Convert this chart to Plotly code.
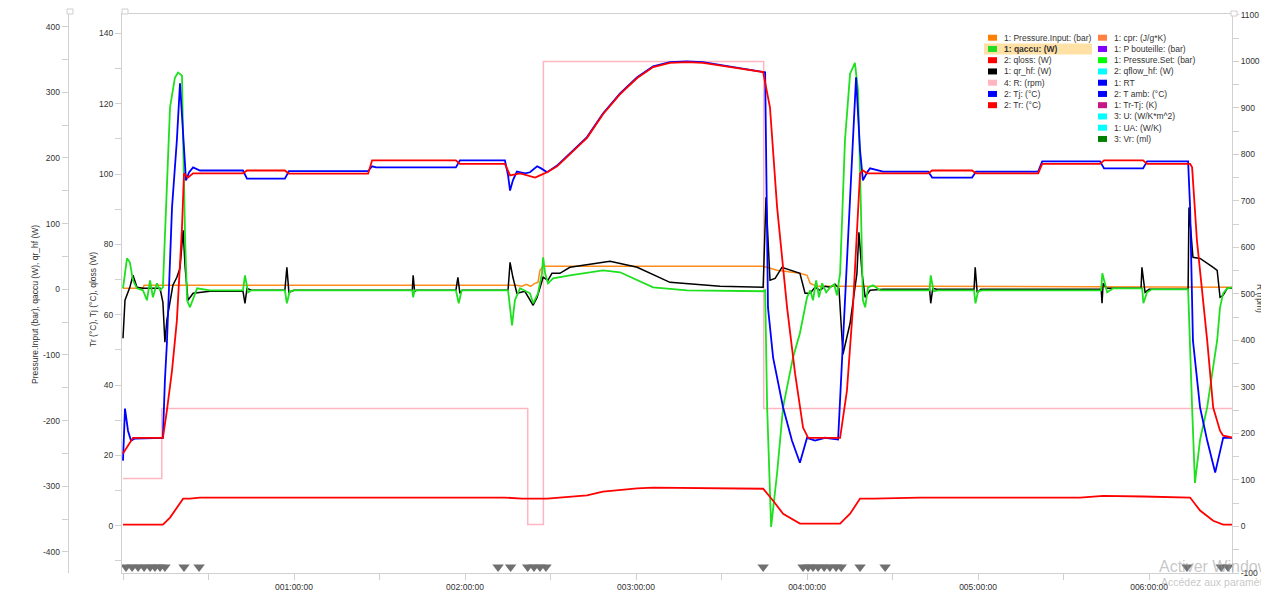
import plotly.graph_objects as go

# ---------------- data (time in minutes since start) ----------------
# inner left axis: Tr (°C), Tj (°C), qloss (W)
TJ = [(0, 18.5), (0.7, 33.3), (1.75, 27.0), (2.8, 24.2), (4.2, 24.8), (14.0, 25.0), (14.7, 41.3),
      (15.4, 51.8), (17.2, 90.5), (18.9, 109.6), (20.0, 125.8), (21.1, 109.6), (22.1, 98.2),
      (23.2, 100.5), (24.6, 101.9), (27.0, 101.0), (42.1, 101.0), (43.5, 98.7), (56.8, 98.7),
      (58.2, 100.8), (86.0, 100.8), (87.4, 102.2), (88.8, 101.9), (116.8, 101.9), (118.2, 103.9),
      (134.0, 103.9), (135.1, 99.6), (135.8, 95.3), (136.8, 98.2), (138.2, 100.7), (141.1, 100.2),
      (142.8, 100.5), (145.3, 102.2), (146.7, 101.6), (148.8, 100.5), (152.3, 102.4), (156.8, 105.9),
      (162.8, 110.5), (168.4, 117.2), (174.4, 122.9), (180.4, 127.5), (186.0, 130.6), (191.9, 131.8),
      (197.9, 132.0), (203.5, 131.8), (224.6, 129.2), (225.3, 128.9), (226.3, 62.0), (228.1, 47.8),
      (231.6, 33.6), (234.7, 24.2), (237.5, 17.9), (240.0, 25.0), (242.8, 24.2), (246.3, 25.0),
      (250.9, 24.5), (252.6, 52.6), (255.1, 90.5), (257.2, 127.5), (258.6, 106.7), (259.6, 98.2),
      (261.1, 100.5), (262.1, 101.6), (266.7, 100.7), (282.5, 100.7), (283.9, 99.0), (297.9, 99.0),
      (299.3, 100.7), (321.1, 100.7), (322.5, 103.6), (342.8, 103.6), (344.2, 101.6), (357.9, 101.6),
      (359.3, 103.6), (373.7, 103.6), (374.4, 90.5), (375.4, 52.6), (377.9, 33.6), (380.4, 24.2),
      (383.2, 15.1), (386.0, 25.0), (389.5, 25.0)]

TR = [(0, 20.5), (1.75, 22.8), (3.5, 25.0), (14.0, 25.0), (15.4, 32.7), (17.2, 44.1), (18.9, 58.3),
      (20.7, 84.8), (21.4, 100.2), (22.8, 99.0), (24.6, 100.2), (42.1, 100.2), (43.5, 101.0),
      (56.8, 101.0), (58.2, 100.1), (86.0, 100.1), (87.4, 103.9), (116.8, 103.9), (118.2, 102.9),
      (134.0, 102.9), (135.8, 99.6), (139.3, 100.2), (142.8, 99.4), (144.6, 99.0), (146.3, 99.6),
      (148.8, 100.5), (152.3, 102.2), (156.8, 105.6), (162.8, 110.3), (168.4, 117.0), (174.4, 122.7),
      (180.4, 127.3), (186.0, 130.4), (191.9, 131.6), (197.9, 131.8), (203.5, 131.6), (224.6, 129.0),
      (227.0, 118.9), (229.5, 90.5), (233.0, 62.0), (235.8, 43.3), (238.6, 27.9), (240.4, 25.0),
      (251.6, 25.0), (254.0, 38.4), (256.1, 62.0), (258.6, 100.2), (259.6, 101.0), (261.1, 100.2),
      (282.5, 100.2), (283.9, 101.0), (297.9, 101.0), (299.3, 100.2), (321.1, 100.2), (322.5, 102.9),
      (342.8, 102.9), (344.2, 103.9), (357.9, 103.9), (359.3, 102.9), (374.4, 102.9), (375.1, 101.9),
      (376.8, 81.1), (380.4, 52.6), (382.5, 33.6), (384.9, 27.0), (386.0, 25.6), (389.5, 25.0)]

QLOSS = [(0, 0.3), (14.0, 0.3), (16.5, 2.3), (18.9, 5.1), (21.1, 7.7), (23.5, 7.7), (27.0, 8.0),
         (134.0, 8.0), (140.0, 7.7), (148.8, 7.7), (162.8, 8.6), (168.4, 9.7), (180.4, 10.6),
         (186.0, 10.8), (224.6, 10.5), (228.1, 7.1), (231.6, 3.4), (237.5, 0.6), (251.6, 0.6),
         (255.1, 3.4), (258.6, 7.7), (263.2, 7.7), (279.6, 8.0), (335.8, 8.0), (343.9, 8.5),
         (357.9, 8.3), (374.4, 8.0), (377.9, 4.3), (382.5, 1.4), (386.0, 0.3), (389.5, 0.3)]

# outer left axis: Pressure.Input (bar), qaccu (W), qr_hf (W)
PIN = [(0, 1.5), (7.0, 1.5), (7.4, 6.1), (138.0, 6.1), (140.0, 4.6), (141.5, 7.6), (143.0, 4.6),
       (144.5, 9.1), (145.6, 10.6), (146.3, 28.9), (147.4, 35.0), (224.6, 35.0), (229.5, 28.9),
       (237.5, 24.3), (240.0, 21.3), (241.1, 9.1), (243.5, 4.6), (279.6, 4.6), (389.5, 3.0)]

QACCU = [(0, 1.5), (1.4, 47.1), (2.4, 41.1), (3.5, 13.7), (4.9, 1.5), (7.0, -1.5), (8.4, -16.7),
         (9.5, 13.7), (10.5, -12.2), (11.9, 9.1), (13.0, -1.5), (14.0, 3.0), (16.5, 277),
         (18.2, 322), (19.3, 330), (20.7, 325.5), (21.1, 226.6), (21.8, 74.5), (22.5, -16.7),
         (23.5, -27.4), (26.0, 1.5), (30.5, -1.5), (42.1, -1.5), (42.8, 21.3), (43.9, -4.6),
         (45.0, -1.5), (56.8, -1.5), (57.5, -21.3), (58.5, -3.0), (60.0, -1.5), (101.5, -1.5),
         (101.8, -12.2), (102.3, -1.5), (116.8, -1.5), (117.8, -21.3), (118.8, -1.5), (135.1, -1.5),
         (136.5, -54.8), (137.5, -16.7), (139.3, 1.5), (142.8, -6.1), (143.9, -21.3), (145.6, -6.1),
         (147.0, 24.3), (147.4, 48.7), (148.1, 24.3), (149.1, 9.1), (150.9, 16.7), (156.8, 21.3),
         (168.4, 28.9), (174.4, 25.9), (180.4, 13.7), (186.0, 3.0), (197.9, -1.5), (224.6, -3.0),
         (225.3, -1.5), (226.0, -179.5), (227.4, -362), (229.5, -279.8), (231.6, -179.5),
         (235.1, -103.4), (237.5, -67.0), (240.0, -12.2), (241.1, -1.5), (242.1, -16.7),
         (243.2, 13.7), (244.2, -12.2), (245.3, 9.1), (246.7, -4.6), (248.1, 3.0), (249.5, 7.6),
         (250.5, -9.1), (251.6, 24.3), (253.3, 226.6), (255.1, 328.5), (256.8, 345), (257.9, 302.7),
         (258.9, 124.7), (259.6, -16.7), (260.4, -27.4), (261.4, 3.0), (263.2, 6.1), (265.6, -1.5),
         (283.0, -1.5), (283.4, 21.3), (284.4, -3.0), (286.0, -1.5), (298.6, -1.5), (299.1, -21.3),
         (300.0, -3.0), (301.5, -1.5), (343.2, -1.5), (343.6, 24.3), (345.3, -4.6), (347.4, 1.5),
         (357.6, 1.5), (358.0, -21.3), (359.3, -4.6), (361.0, 0), (373.7, 0), (374.4, -77.0),
         (375.1, -179.5), (376.1, -295), (377.9, -229), (380.4, -179.5), (382.5, -118.6),
         (383.9, -77.6), (384.9, -27.4), (386.0, -6.1), (387.4, 1.5), (389.5, 3.0)]

QRHF = [(0, -74.5), (0.7, -16.7), (2.4, 3.0), (3.5, 21.3), (4.9, 3.0), (7.0, 1.5), (13.0, 1.5),
        (14.0, -20.0), (14.7, -80.6), (15.4, -47.0), (17.5, 6.1), (18.9, 18.3), (20.0, 31.9),
        (21.1, 89.7), (21.8, 33.5), (22.8, -16.7), (24.6, -6.1), (30.5, -3.0), (42.1, -3.0),
        (42.8, -21.3), (43.5, 1.5), (45.0, -1.5), (56.8, -1.5), (57.5, 33.5), (58.2, -4.6),
        (60.0, -1.5), (101.5, -1.5), (101.8, 21.3), (102.3, -3.0), (103.0, -1.5), (116.8, -1.5),
        (117.5, 18.3), (118.2, -6.1), (119.0, -1.5), (135.1, -1.5), (135.8, 41.1), (136.8, 18.3),
        (138.2, -6.1), (141.0, -3.0), (143.9, -24.3), (145.3, -12.2), (146.3, 3.0), (147.4, 18.3),
        (149.1, 13.7), (150.5, 24.3), (153.3, 24.3), (156.8, 33.5), (170.9, 42.6), (180.4, 33.5),
        (191.9, 10.6), (209.5, 4.6), (224.6, 3.0), (225.6, 140.0), (227.0, 13.7), (228.8, 16.7),
        (231.2, 33.5), (237.5, 24.3), (239.3, -6.1), (241.1, -6.1), (242.8, 3.0), (244.6, -1.5),
        (246.3, 4.6), (248.1, 3.0), (249.8, 7.6), (251.2, 1.5), (252.6, -98.9), (255.1, -51.7),
        (257.5, 24.3), (258.2, 86.7), (259.3, 24.3), (260.4, -12.2), (262.1, -1.5), (266.7, 0.0),
        (283.0, 0.0), (283.4, -21.3), (284.1, 1.5), (285.5, 0), (298.6, 0), (299.0, 33.5),
        (299.7, -4.6), (301.0, 0), (343.2, 0), (343.5, -21.3), (343.9, 9.1), (345.0, 1.5),
        (357.2, 1.5), (357.5, 33.5), (358.6, -4.6), (360.0, 0), (373.7, 0), (374.0, 124.7),
        (375.4, 48.7), (377.9, 47.0), (382.5, 33.5), (383.9, 28.9), (384.9, -12.2), (386.0, -9.1),
        (387.4, 1.5), (389.5, 1.5)]

# right axis: R (rpm)
RPM = [(0, 103), (13.6, 103), (13.6, 253.8), (142.0, 253.8), (142.0, 4.3), (147.5, 4.3),
       (147.5, 1000), (224.8, 1000), (224.8, 253.8), (389.5, 253.8)]

# event markers (time in minutes)
EVENTS = [1.05, 3.2, 5.3, 7.4, 9.5, 11.2, 13.0, 14.7, 21.4, 26.7, 131.6, 136.0, 142.0, 144.2,
          146.3, 148.4, 224.6, 238.6, 240.4, 242.1, 243.9, 246.0, 248.0, 250.2, 252.0, 258.6,
          267.4, 373.3, 385.3, 387.7]

# ticks
X_TICKVALS = [0, 30, 60, 90, 120, 150, 180, 210, 240, 270, 300, 330, 360]
X_TICKTEXT = ["", "", "001:00:00", "", "002:00:00", "", "003:00:00", "", "004:00:00", "",
              "005:00:00", "", "006:00:00"]
Q_TICKVALS = [-400, -300, -200, -100, 0, 100, 200, 300, 400]
Q_TICKTEXT = ["-400", "-300", "-200", "-100", "0", "100", "200", "300", "400"]
T_TICKVALS = [0, 20, 40, 60, 80, 100, 120, 140]
T_TICKTEXT = ["0", "20", "40", "60", "80", "100", "120", "140"]
R_TICKVALS = [-100, 0, 100, 200, 300, 400, 500, 600, 700, 800, 900, 1000, 1100]
R_TICKTEXT = ["-100", "0", "100", "200", "300", "400", "500", "600", "700", "800", "900",
              "1000", "1100"]

LEGEND_LEFT = [("1: Pressure.Input: (bar)", "#FF8000"), ("1: qaccu: (W)", "#22DD22"),
               ("2: qloss: (W)", "#FF0000"), ("1: qr_hf: (W)", "#000000"),
               ("4: R: (rpm)", "#FFB6C1"), ("2: Tj: (°C)", "#0000FF"), ("2: Tr: (°C)", "#FF0000")]
LEGEND_RIGHT = [("1: cpr: (J/g*K)", "#FF8040"), ("1: P bouteille: (bar)", "#8000FF"),
                ("1: Pressure.Set: (bar)", "#00FF00"), ("2: qflow_hf: (W)", "#00FFFF"),
                ("1: RT", "#0000FF"), ("2: T amb: (°C)", "#0000FF"), ("1: Tr-Tj: (K)", "#C71585"),
                ("3: U: (W/K*m^2)", "#00FFFF"), ("1: UA: (W/K)", "#00FFFF"), ("3: Vr: (ml)", "#008000")]

# ---------------- layout helpers ----------------
# the page body has an 8 px margin, so the figure is 8 px smaller and offset
OFF = 8
W, H = 1269 - OFF, 598 - OFF
ML, MR, MT, MB = 60 - OFF, 37, 14 - OFF, 25
PW = W - ML - MR
PH = H - MT - MB


def xp(px):
    """window pixel x -> paper fraction"""
    return (px - OFF - ML) / PW


def yp(py):
    """window pixel y -> paper fraction"""
    return (H - MB - (py - OFF)) / PH


def minors(lo, hi, step, majors):
    return [v for v in range(lo, hi + 1, step) if v not in majors]


FONT = "Liberation Sans, Arial, sans-serif"
TXT = "#333333"
AX = "#d0d0d0"
FS = 8.5

fig = go.Figure()


def add(series, name, color, width, yaxis):
    t, v = zip(*series)
    fig.add_trace(go.Scatter(x=list(t), y=list(v), mode="lines", name=name,
                             line=dict(color=color, width=width), yaxis=yaxis,
                             showlegend=False, hoverinfo="skip"))


# y  = right axis (R), y2 = outer left, y3 = inner left, y4 = event strip
add(RPM, "4: R: (rpm)", "#FFB6C1", 1.5, "y")
add(PIN, "1: Pressure.Input: (bar)", "#FF8C1A", 1.5, "y2")
add(QRHF, "1: qr_hf: (W)", "#000000", 1.5, "y2")
add(QACCU, "1: qaccu: (W)", "#1EE01E", 1.8, "y2")
add(QLOSS, "2: qloss: (W)", "#FF0000", 1.8, "y3")
add(TJ, "2: Tj: (°C)", "#0000FF", 1.8, "y3")
add(TR, "2: Tr: (°C)", "#FF0000", 1.8, "y3")

fig.add_trace(go.Scatter(x=EVENTS, y=[0.5] * len(EVENTS), mode="markers", yaxis="y4",
                         marker=dict(symbol="triangle-down", size=10, color="#707070"),
                         showlegend=False, hoverinfo="skip"))

tickfont = dict(family=FONT, size=FS, color=TXT)
common = dict(showgrid=False, zeroline=False, showline=True, linecolor=AX, linewidth=1,
              ticks="outside", ticklen=6, tickcolor=AX, tickfont=tickfont)


def minor_cfg(vals):
    return dict(tickmode="array", tickvals=vals, ticks="outside", ticklen=6, tickcolor=AX,
                showgrid=False)


x0 = xp(122)
fig.update_layout(
    width=W, height=H, margin=dict(l=ML, r=MR, t=MT, b=MB, autoexpand=False),
    plot_bgcolor="white", paper_bgcolor="white", showlegend=False,
    font=dict(family=FONT, size=FS, color=TXT),
    xaxis=dict(domain=[x0, 1], range=[-0.35, 389.1], tickmode="array", tickvals=X_TICKVALS,
               ticktext=X_TICKTEXT, mirror=True, **common),
    yaxis=dict(side="right", anchor="x", range=[-100, 1102], tickmode="array",
               tickvals=R_TICKVALS, ticktext=R_TICKTEXT,
               minor=minor_cfg(minors(-50, 1100, 50, R_TICKVALS)), **common),
    yaxis2=dict(overlaying="y", anchor="free", position=xp(67.7), side="left",
                range=[-432.1, 419.3], tickmode="array", tickvals=Q_TICKVALS, ticktext=Q_TICKTEXT,
                minor=minor_cfg(minors(-450, 400, 50, Q_TICKVALS)), **common),
    yaxis3=dict(overlaying="y", anchor="x", side="left", range=[-13.45, 145.5], tickmode="array",
                tickvals=T_TICKVALS, ticktext=T_TICKTEXT,
                minor=minor_cfg(minors(-10, 140, 10, T_TICKVALS)), **common),
    yaxis4=dict(overlaying="y", anchor="x", range=[-0.4, 83.5], visible=False),
)

annotations = []
shapes = []

# axis titles
annotations.append(dict(text="Pressure.Input (bar), qaccu (W), qr_hf (W)", textangle=-90,
                        xref="paper", yref="paper", x=xp(35), y=yp(305), xanchor="center",
                        yanchor="middle", showarrow=False,
                        font=dict(family=FONT, size=FS, color=TXT)))
annotations.append(dict(text="Tr (°C), Tj (°C), qloss (W)", textangle=-90,
                        xref="paper", yref="paper", x=xp(93), y=yp(300), xanchor="center",
                        yanchor="middle", showarrow=False,
                        font=dict(family=FONT, size=FS, color=TXT)))
annotations.append(dict(text="R (rpm)", textangle=90, xref="paper", yref="paper",
                        x=xp(1260), y=yp(298), xanchor="center", yanchor="middle",
                        showarrow=False, font=dict(family=FONT, size=FS, color=TXT)))

# legend panel
shapes.append(dict(type="rect", xref="paper", yref="paper", x0=xp(984), x1=xp(1092),
                   y0=yp(54.5), y1=yp(43.5), fillcolor="#FFE1A6", line=dict(width=0), layer="below"))
row_y = [37.7 + 11.25 * i for i in range(10)]
for i, (label, col) in enumerate(LEGEND_LEFT):
    y = row_y[i]
    shapes.append(dict(type="rect", xref="paper", yref="paper", x0=xp(988), x1=xp(997),
                       y0=yp(y + 3), y1=yp(y - 3), fillcolor=col, line=dict(width=0)))
    annotations.append(dict(text=("<b>%s</b>" % label) if i == 1 else label, xref="paper",
                            yref="paper", x=xp(1002), y=yp(y), xanchor="left", yanchor="middle",
                            showarrow=False, font=dict(family=FONT, size=FS, color=TXT)))
for i, (label, col) in enumerate(LEGEND_RIGHT):
    y = row_y[i]
    shapes.append(dict(type="rect", xref="paper", yref="paper", x0=xp(1098), x1=xp(1107),
                       y0=yp(y + 3), y1=yp(y - 3), fillcolor=col, line=dict(width=0)))
    annotations.append(dict(text=label, xref="paper", yref="paper", x=xp(1112), y=yp(y),
                            xanchor="left", yanchor="middle", showarrow=False,
                            font=dict(family=FONT, size=FS, color=TXT)))

# frame line at far left and small axis handles
shapes.append(dict(type="line", xref="paper", yref="paper", x0=xp(7), x1=xp(7), y0=yp(598),
                   y1=yp(8), line=dict(color="#e2e2e2", width=1)))
for hx0, hy0 in [(67, 9), (122, 9), (1231, 11)]:
    shapes.append(dict(type="rect", xref="paper", yref="paper", x0=xp(hx0), x1=xp(hx0 + 6),
                       y0=yp(hy0 + 5), y1=yp(hy0), fillcolor="white",
                       line=dict(color="#cfcfcf", width=1)))

# OS watermark visible on the screenshot
annotations.append(dict(text="Activer Windows", xref="paper", yref="paper", x=xp(1157),
                        y=yp(566), xanchor="left", yanchor="middle", showarrow=False,
                        font=dict(family="Liberation Sans, Arial", size=16, color="rgba(150,150,150,0.55)")))
annotations.append(dict(text="Accédez aux paramètres", xref="paper", yref="paper", x=xp(1159),
                        y=yp(582), xanchor="left", yanchor="middle", showarrow=False,
                        font=dict(family="Liberation Sans, Arial", size=10.5, color="rgba(150,150,150,0.55)")))

fig.update_layout(annotations=annotations, shapes=shapes)
fig.write_html("out.html")
